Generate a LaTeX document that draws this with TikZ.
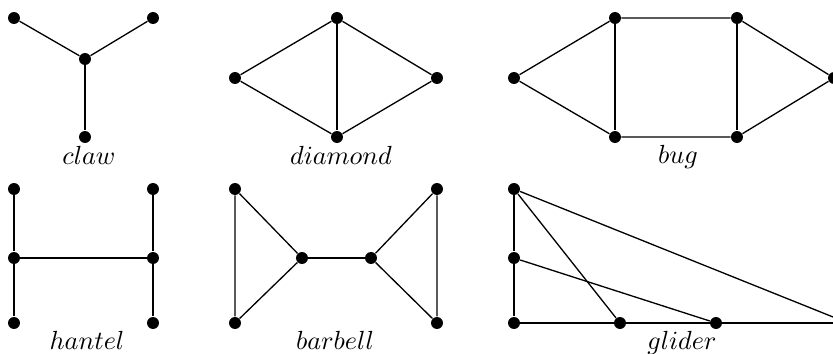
\documentclass[tikz,border=0pt]{standalone}
\usepackage{amsmath}
\usepackage{tikz}
\usetikzlibrary{positioning}
\tikzset{
	vtx/.style  ={circle, fill=black, draw=none, inner sep=0pt, minimum size=0.16cm},
	gname/.style={inner sep=0pt, anchor=base},
	edge/.style ={draw=black, line width=0.5pt},
}
\begin{document}
\begin{tikzpicture}[x=0.0134cm, y=-0.0134cm]
	\clip (0,0) rectangle (833,354);
	% claw
	\node[vtx] (cm) at (85,59) {};
	\node[vtx] (cl) at (14,18) {};
	\node[vtx] (cr) at (153,18) {};
	\node[vtx] (cb) at (85,137) {};
	\foreach \v in {cl, cr, cb} \draw[edge] (cm) -- (\v);
	\node[gname] (nclaw) at (89,165) {$claw$};
	% diamond
	\node[vtx] (dl) at (235,78) {};
	\node[vtx] (dt) at (337,18) {};
	\node[vtx] (dr) at (437,78) {};
	\node[vtx] (db) at (337,137) {};
	\draw[edge] (dl) -- (dt) -- (dr) -- (db) -- (dl);
	\draw[edge] (dt) -- (db);
	\node[gname] (ndiamond) at (341,165) {$diamond$};
	% bug
	\node[vtx] (bl) at (514,78) {};
	\node[vtx] (btl) at (615,18) {};
	\node[vtx] (btr) at (737,18) {};
	\node[vtx] (bbl) at (615,137) {};
	\node[vtx] (bbr) at (737,137) {};
	\node[vtx] (br) at (834,78) {};
	\draw[edge] (bl) -- (btl) -- (btr) -- (br) -- (bbr) -- (bbl) -- (bl);
	\draw[edge] (btl) -- (bbl);
	\draw[edge] (btr) -- (bbr);
	\node[gname] (nbug) at (678,164) {$bug$};
	% hantel
	\foreach \x/\s in {14/l, 153/r} {
		\node[vtx] (h\s t) at (\x,189) {};
		\node[vtx] (h\s m) at (\x,258) {};
		\node[vtx] (h\s b) at (\x,323) {};
		\draw[edge] (h\s t) -- (h\s m) -- (h\s b);
	}
	\draw[edge] (hlm) -- (hrm);
	\node[gname] (nhantel) at (87,350) {$hantel$};
	% barbell
	\node[vtx] (alt) at (235,189) {};
	\node[vtx] (alb) at (235,323) {};
	\node[vtx] (alm) at (302,258) {};
	\node[vtx] (arm) at (371,258) {};
	\node[vtx] (art) at (437,189) {};
	\node[vtx] (arb) at (437,323) {};
	\draw[edge] (alt) -- (alb) -- (alm) -- (alt);
	\draw[edge] (art) -- (arb) -- (arm) -- (art);
	\draw[edge] (alm) -- (arm);
	\node[gname] (nbarbell) at (335,350) {$barbell$};
	% glider
	\node[vtx] (gt) at (514,189) {};
	\node[vtx] (gm) at (514,258) {};
	\node[vtx] (gb) at (514,323) {};
	\node[vtx] (g1) at (620,323) {};
	\node[vtx] (g2) at (716,323) {};
	\node[vtx] (g3) at (848,323) {};
	\draw[edge] (gt) -- (gm) -- (gb) -- (g1) -- (g2) -- (g3);
	\draw[edge] (gt) -- (g1);
	\draw[edge] (gt) -- (g3);
	\draw[edge] (gm) -- (g2);
	\node[gname] (nglider) at (682,350) {$glider$};
\end{tikzpicture}
\end{document}
